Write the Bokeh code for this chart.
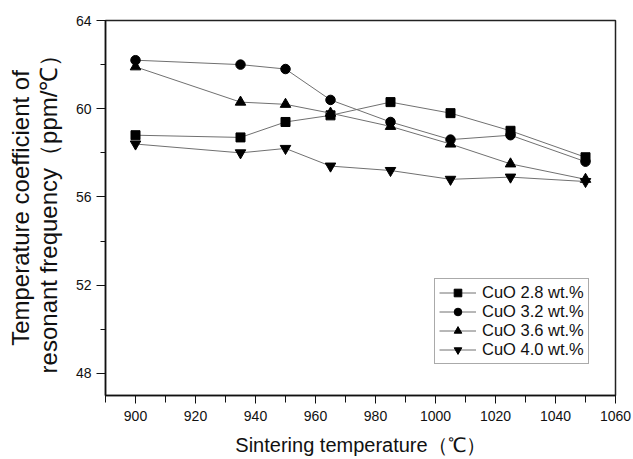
from bokeh.plotting import figure
from bokeh.models import Range1d, FixedTicker, Legend, LegendItem
from bokeh.embed import file_html
from bokeh.resources import INLINE

temps = [900, 935, 950, 965, 985, 1005, 1025, 1050]
cuo_28 = [58.8, 58.7, 59.4, 59.7, 60.3, 59.8, 59.0, 57.8]
cuo_32 = [62.2, 62.0, 61.8, 60.4, 59.4, 58.6, 58.8, 57.6]
cuo_36 = [61.9, 60.3, 60.2, 59.8, 59.2, 58.4, 57.5, 56.8]
cuo_40 = [58.4, 58.0, 58.2, 57.4, 57.2, 56.8, 56.9, 56.7]
series_labels = ["CuO 2.8 wt.%", "CuO 3.2 wt.%", "CuO 3.6 wt.%", "CuO 4.0 wt.%"]
x_ticks = [900, 920, 940, 960, 980, 1000, 1020, 1040, 1060]
x_minor = [890, 910, 930, 950, 970, 990, 1010, 1030, 1050]
y_ticks = [48, 52, 56, 60, 64]
y_minor = [48, 50, 52, 54, 56, 58, 60, 62, 64]

FONT = "Liberation Sans"

p = figure(width=633, height=459, x_range=Range1d(890, 1060), y_range=Range1d(47, 64),
           output_backend="svg", toolbar_location=None,
           min_border_left=105, min_border_right=18, min_border_top=20, min_border_bottom=64)
p.xgrid.visible = False
p.ygrid.visible = False
p.background_fill_color = "white"
p.border_fill_color = "white"
p.outline_line_color = "#222222"
p.outline_line_width = 1.5
p.outline_line_alpha = 1.0

p.xaxis.ticker = FixedTicker(ticks=x_ticks, minor_ticks=x_minor)
p.yaxis.ticker = FixedTicker(ticks=y_ticks, minor_ticks=y_minor)

for ax in (p.xaxis, p.yaxis):
    ax.axis_line_width = 1.5
    ax.axis_line_color = "#111111"
    ax.major_tick_line_color = "#111111"
    ax.minor_tick_line_color = "#111111"
    ax.major_tick_in = 0
    ax.minor_tick_in = 0
    ax.major_label_text_font = FONT
    ax.major_label_text_font_size = "14px"
    ax.major_label_text_color = "#111111"
    ax.axis_label_text_font = FONT
    ax.axis_label_text_font_style = "normal"
    ax.axis_label_text_color = "#111111"

p.xaxis.axis_label_text_font_size = "20px"
p.yaxis.axis_label_text_font_size = "24px"

p.xaxis.major_tick_out = 8
p.xaxis.minor_tick_out = 7
p.yaxis.major_tick_out = 9
p.yaxis.minor_tick_out = 5
p.xaxis.major_label_standoff = 7
p.yaxis.major_label_standoff = 5

p.xaxis.axis_label = "Sintering temperature（℃）"
p.xaxis.axis_label_standoff = 10
p.yaxis.axis_label = "Temperature coefficient of\nresonant frequency（ppm/℃）"
p.yaxis.axis_label_standoff = 11
p.yaxis.axis_label_text_line_height = 1.05

line_color = "#707070"
items = []
data = [cuo_28, cuo_32, cuo_36, cuo_40]
markers = ["square", "circle", "triangle", "inverted_triangle"]
sizes = [9, 9.5, 10.5, 10.5]
for vals, lab, mk, sz in zip(data, series_labels, markers, sizes):
    r1 = p.line(temps, vals, line_color=line_color, line_width=1)
    r2 = p.scatter(temps, vals, marker=mk, size=sz, fill_color="black", line_color="black")
    items.append(LegendItem(label=lab, renderers=[r1, r2]))

legend = Legend(items=items, location=(329, 31))
legend.label_text_font = FONT
legend.label_text_font_size = "16.5px"
legend.label_text_color = "#111111"
legend.glyph_width = 37
legend.glyph_height = 19
legend.label_height = 19
legend.label_standoff = 6
legend.spacing = 0
legend.padding = 4
legend.margin = 0
legend.border_line_color = "#555555"
legend.border_line_width = 1
legend.background_fill_alpha = 1
p.add_layout(legend)

open("out.html", "w").write(file_html(p, INLINE))
